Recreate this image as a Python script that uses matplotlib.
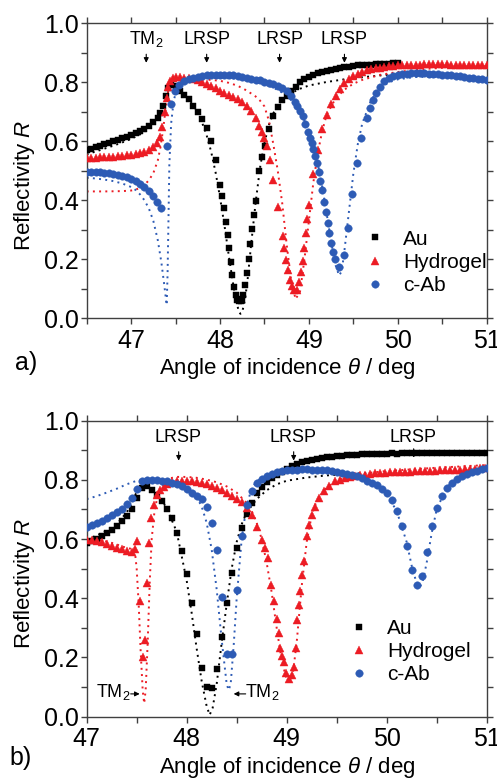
import numpy as np
import matplotlib
matplotlib.use('Agg')
import matplotlib.pyplot as plt
from matplotlib.ticker import MultipleLocator, FormatStrFormatter

plt.rcParams['font.family'] = ['Liberation Sans', 'DejaVu Sans']
plt.rcParams['mathtext.fontset'] = 'custom'
plt.rcParams['mathtext.rm'] = 'Liberation Sans'
plt.rcParams['mathtext.it'] = 'Liberation Sans:italic'

RED = '#ec1c24'
BLUE = '#2d5bb5'
AXCOL = '#404040'
TM2 = r'TM$_\mathregular{2}$'

# ---------------- panel a: measured ----------------
au_a_x = [46.50, 46.55, 46.60, 46.65, 46.70, 46.75, 46.80, 46.85, 46.90, 46.95, 47.00, 47.05, 47.10,
          47.15, 47.20, 47.25, 47.30, 47.33, 47.36, 47.39, 47.42, 47.45, 47.50, 47.55, 47.60, 47.65,
          47.70, 47.75, 47.80, 47.85, 47.90, 47.95, 48.000, 48.026, 48.045, 48.064, 48.086, 48.105,
          48.120, 48.139, 48.161, 48.180, 48.195, 48.213, 48.232, 48.247, 48.262, 48.281, 48.303,
          48.322, 48.341, 48.363, 48.382, 48.404, 48.435, 48.47, 48.51, 48.55, 48.60, 48.65, 48.70,
          48.75, 48.80, 48.85, 48.90, 48.95, 49.00, 49.05, 49.10, 49.15, 49.20, 49.25, 49.30, 49.35,
          49.40, 49.45, 49.50, 49.55, 49.60, 49.65, 49.70, 49.75, 49.80, 49.85, 49.90, 49.95, 50.00]
au_a_r = [0.570, 0.575, 0.580, 0.585, 0.590, 0.595, 0.600, 0.605, 0.610, 0.615, 0.621, 0.627, 0.635,
          0.643, 0.652, 0.664, 0.678, 0.695, 0.720, 0.752, 0.780, 0.791, 0.786, 0.772, 0.758, 0.743,
          0.720, 0.700, 0.675, 0.645, 0.600, 0.537, 0.452, 0.415, 0.373, 0.328, 0.282, 0.237,
          0.192, 0.147, 0.107, 0.079, 0.062, 0.057, 0.057, 0.065, 0.079, 0.113, 0.155,
          0.200, 0.252, 0.302, 0.350, 0.397, 0.500, 0.545, 0.585, 0.640, 0.685, 0.715, 0.740,
          0.755, 0.770, 0.785, 0.800, 0.810, 0.818, 0.824, 0.830, 0.835, 0.839, 0.843, 0.846, 0.849,
          0.851, 0.853, 0.855, 0.857, 0.858, 0.859, 0.860, 0.861, 0.862, 0.863, 0.863, 0.864, 0.864]

hyd_a_x = [46.50, 46.55, 46.60, 46.65, 46.70, 46.75, 46.80, 46.85, 46.90, 46.95, 47.00, 47.05, 47.10,
           47.15, 47.20, 47.25, 47.29, 47.32, 47.35, 47.38, 47.40, 47.42, 47.44, 47.47, 47.50, 47.55,
           47.60, 47.65, 47.70, 47.75, 47.80, 47.85, 47.90, 47.95, 48.00, 48.05, 48.10, 48.15, 48.20,
           48.25, 48.30, 48.35, 48.40, 48.44, 48.47, 48.50, 48.53, 48.56, 48.600, 48.648, 48.704,
           48.723, 48.742, 48.768, 48.787, 48.809, 48.831, 48.861, 48.888, 48.910, 48.936, 48.948,
           48.966, 48.981, 49.004, 49.05, 49.10, 49.15, 49.20, 49.25, 49.30, 49.35, 49.40, 49.45,
           49.50, 49.55, 49.60, 49.65, 49.70, 49.75, 49.80, 49.85, 49.90, 49.95, 50.00, 50.05, 50.10,
           50.15, 50.20, 50.25, 50.30, 50.35, 50.40, 50.45, 50.50, 50.55, 50.60, 50.65, 50.70, 50.75,
           50.80, 50.85, 50.90, 50.95, 51.00]
hyd_a_r = [0.542, 0.543, 0.544, 0.545, 0.546, 0.547, 0.548, 0.550, 0.551, 0.553, 0.555, 0.557, 0.560,
           0.564, 0.570, 0.580, 0.595, 0.616, 0.650, 0.700, 0.745, 0.785, 0.805, 0.813, 0.817, 0.818,
           0.816, 0.813, 0.810, 0.806, 0.801, 0.795, 0.788, 0.780, 0.772, 0.765, 0.758, 0.751, 0.742,
           0.732, 0.720, 0.703, 0.680, 0.652, 0.630, 0.610, 0.585, 0.535, 0.469, 0.376, 0.280,
           0.237, 0.198, 0.164, 0.130, 0.108, 0.096, 0.096, 0.124, 0.158, 0.195, 0.237,
           0.288, 0.335, 0.384, 0.490, 0.570, 0.640, 0.690, 0.725, 0.753, 0.778, 0.797, 0.810,
           0.820, 0.828, 0.835, 0.840, 0.844, 0.847, 0.850, 0.852, 0.854, 0.856, 0.857, 0.858, 0.859,
           0.859, 0.860, 0.860, 0.861, 0.861, 0.861, 0.861, 0.861, 0.861, 0.860, 0.860, 0.860, 0.859,
           0.859, 0.858, 0.858, 0.857, 0.857]

cab_a_x = [46.50, 46.55, 46.60, 46.65, 46.70, 46.75, 46.80, 46.85, 46.90, 46.95, 47.00, 47.05, 47.10,
           47.15, 47.20, 47.25, 47.29, 47.34, 47.40, 47.45, 47.49, 47.54, 47.60, 47.65, 47.70, 47.75,
           47.80, 47.85, 47.90, 47.95, 48.00, 48.05, 48.10, 48.15, 48.20, 48.25, 48.30, 48.35, 48.40,
           48.45, 48.50, 48.55, 48.60, 48.65, 48.70, 48.75, 48.80, 48.84, 48.87, 48.90, 48.93, 48.96,
           48.99, 49.01, 49.03, 49.05, 49.07, 49.09, 49.11, 49.13, 49.15, 49.17, 49.19, 49.21, 49.23,
           49.25, 49.27, 49.29, 49.34, 49.39, 49.44, 49.49, 49.54, 49.59, 49.65, 49.69, 49.72, 49.76,
           49.80, 49.85, 49.90, 49.95, 50.00, 50.05, 50.10, 50.15, 50.20, 50.25, 50.30, 50.35, 50.40,
           50.45, 50.50, 50.55, 50.60, 50.65, 50.70, 50.75, 50.80, 50.85, 50.90, 50.95, 51.00]
cab_a_r = [0.497, 0.497, 0.496, 0.495, 0.494, 0.492, 0.490, 0.487, 0.483, 0.478, 0.472, 0.464, 0.455,
           0.444, 0.430, 0.413, 0.395, 0.373, 0.584, 0.728, 0.770, 0.791, 0.803, 0.810, 0.815, 0.819,
           0.822, 0.824, 0.825, 0.826, 0.826, 0.826, 0.825, 0.824, 0.822, 0.819, 0.815, 0.812, 0.809,
           0.806, 0.802, 0.798, 0.794, 0.789, 0.782, 0.770, 0.752, 0.734, 0.718, 0.703, 0.686, 0.660,
           0.633, 0.612, 0.594, 0.575, 0.550, 0.525, 0.497, 0.465, 0.435, 0.395, 0.361, 0.322, 0.290,
           0.256, 0.226, 0.200, 0.173, 0.215, 0.305, 0.420, 0.525, 0.610, 0.678, 0.712, 0.740, 0.765,
           0.785, 0.803, 0.813, 0.820, 0.825, 0.828, 0.829, 0.830, 0.830, 0.830, 0.830, 0.829, 0.829,
           0.828, 0.826, 0.825, 0.823, 0.822, 0.820, 0.818, 0.816, 0.814, 0.812, 0.810, 0.807]

# ---------------- panel a: fits ----------------
au_a_fx = [46.5, 46.6, 46.7, 46.8, 46.9, 47.0, 47.1, 47.2, 47.25, 47.3, 47.35, 47.38, 47.41, 47.43,
           47.46, 47.5, 47.55, 47.6, 47.65, 47.7, 47.75, 47.8, 47.85, 47.9, 47.95, 48.0, 48.05, 48.1,
           48.15, 48.18, 48.21, 48.23, 48.25, 48.28, 48.31, 48.35, 48.4, 48.45, 48.5, 48.55, 48.6,
           48.65, 48.7, 48.8, 48.9, 49.0, 49.2, 49.4, 49.6, 49.8, 50.0]
au_a_fr = [0.556, 0.565, 0.575, 0.585, 0.596, 0.608, 0.623, 0.643, 0.657, 0.675, 0.705, 0.735, 0.770, 0.785,
           0.788, 0.783, 0.772, 0.758, 0.741, 0.720, 0.695, 0.662, 0.620, 0.565, 0.495, 0.410, 0.315, 0.210,
           0.112, 0.062, 0.025, 0.015, 0.022, 0.060, 0.130, 0.250, 0.390, 0.510, 0.595, 0.655, 0.695,
           0.722, 0.741, 0.763, 0.778, 0.789, 0.801, 0.810, 0.817, 0.823, 0.828]

hyd_a_fx = [46.5, 46.7, 46.9, 47.0, 47.05, 47.1, 47.15, 47.2, 47.25, 47.3, 47.33, 47.36, 47.39, 47.42,
            47.45, 47.5, 47.6, 47.7, 47.8, 47.9, 48.0, 48.1, 48.2, 48.3, 48.4, 48.45, 48.5, 48.55, 48.6,
            48.65, 48.7, 48.75, 48.8, 48.85, 48.9, 48.95, 49.0, 49.05, 49.1, 49.15, 49.2, 49.3, 49.4,
            49.5, 49.6, 49.8, 50.0, 50.3, 50.6, 51.0]
hyd_a_fr = [0.430, 0.430, 0.431, 0.433, 0.436, 0.442, 0.452, 0.468, 0.492, 0.535, 0.580, 0.640, 0.715, 0.775,
            0.800, 0.810, 0.813, 0.812, 0.810, 0.808, 0.805, 0.798, 0.788, 0.772, 0.752, 0.738, 0.718, 0.670,
            0.590, 0.500, 0.390, 0.250, 0.130, 0.065, 0.090, 0.200, 0.330, 0.460, 0.560, 0.635, 0.690, 0.745,
            0.775, 0.795, 0.808, 0.825, 0.835, 0.845, 0.851, 0.855]

cab_a_fx = [46.5, 46.6, 46.7, 46.8, 46.9, 47.0, 47.05, 47.1, 47.15, 47.2, 47.25, 47.3, 47.34, 47.37,
            47.40, 47.41, 47.42, 47.43, 47.45, 47.48, 47.52, 47.6, 47.8, 48.0, 48.2, 48.4, 48.6, 48.7,
            48.8, 48.9, 49.0, 49.05, 49.1, 49.15, 49.2, 49.25, 49.3, 49.34, 49.37, 49.4, 49.45, 49.5,
            49.55, 49.6, 49.7, 49.8, 49.9, 50.0, 50.2, 50.4, 50.6, 50.8, 51.0]
cab_a_fr = [0.476, 0.474, 0.470, 0.465, 0.457, 0.445, 0.435, 0.420, 0.400, 0.372, 0.330, 0.265, 0.190, 0.120,
            0.045, 0.150, 0.330, 0.520, 0.660, 0.740, 0.780, 0.800, 0.812, 0.815, 0.812, 0.802, 0.782, 0.765,
            0.740, 0.700, 0.640, 0.590, 0.525, 0.445, 0.355, 0.260, 0.180, 0.145, 0.160, 0.230, 0.360, 0.490,
            0.590, 0.660, 0.740, 0.780, 0.800, 0.810, 0.818, 0.818, 0.815, 0.810, 0.805]

# ---------------- panel b: measured ----------------
au_b_x = [47.00, 47.05, 47.10, 47.15, 47.20, 47.25, 47.30, 47.35, 47.40, 47.45, 47.50, 47.55, 47.60,
          47.65, 47.70, 47.75, 47.80, 47.85, 47.90, 47.95, 48.00, 48.05, 48.10, 48.15, 48.20, 48.25,
          48.30, 48.35, 48.40, 48.45, 48.50, 48.55, 48.60, 48.65, 48.70, 48.75, 48.80, 48.85, 48.90,
          48.95, 49.00, 49.05, 49.10, 49.15, 49.20, 49.25, 49.30, 49.35, 49.40, 49.45, 49.50, 49.55,
          49.60, 49.65, 49.70, 49.75, 49.80, 49.85, 49.90, 49.95, 50.00, 50.05, 50.10, 50.15, 50.20,
          50.25, 50.30, 50.35, 50.40, 50.45, 50.50, 50.55, 50.60, 50.65, 50.70, 50.75, 50.80, 50.85,
          50.90, 50.95, 51.00]
au_b_r = [0.588, 0.594, 0.601, 0.610, 0.620, 0.631, 0.645, 0.660, 0.678, 0.703, 0.738, 0.772, 0.778,
          0.767, 0.750, 0.728, 0.703, 0.672, 0.622, 0.560, 0.482, 0.383, 0.279, 0.166, 0.101, 0.098,
          0.161, 0.268, 0.385, 0.485, 0.569, 0.636, 0.685, 0.723, 0.755, 0.777, 0.793, 0.806, 0.817,
          0.827, 0.837, 0.846, 0.853, 0.859, 0.864, 0.868, 0.871, 0.874, 0.876, 0.878, 0.880, 0.882,
          0.883, 0.884, 0.885, 0.886, 0.887, 0.888, 0.888, 0.889, 0.889, 0.890, 0.886, 0.890, 0.891,
          0.891, 0.891, 0.891, 0.891, 0.891, 0.891, 0.891, 0.891, 0.891, 0.891, 0.891, 0.891, 0.891,
          0.891, 0.891, 0.891]

hyd_b_x = [47.00, 47.05, 47.10, 47.15, 47.20, 47.25, 47.30, 47.35, 47.40, 47.45, 47.48, 47.50, 47.53,
           47.56, 47.58, 47.60, 47.62, 47.64, 47.67, 47.70, 47.73, 47.77, 47.80, 47.85, 47.90, 47.95,
           48.00, 48.05, 48.10, 48.15, 48.20, 48.25, 48.30, 48.35, 48.40, 48.45, 48.50, 48.55, 48.60,
           48.65, 48.70, 48.75, 48.78, 48.81, 48.84, 48.87, 48.90, 48.92, 48.93, 48.95, 48.97, 48.99,
           49.02, 49.05, 49.07, 49.09, 49.10, 49.12, 49.13, 49.15, 49.17, 49.20, 49.22, 49.25, 49.28,
           49.32, 49.37, 49.42, 49.48, 49.53, 49.58, 49.63, 49.68, 49.73, 49.78, 49.83, 49.88, 49.93,
           49.98, 50.03, 50.08, 50.13, 50.18, 50.23, 50.28, 50.33, 50.38, 50.43, 50.48, 50.53, 50.58,
           50.63, 50.68, 50.73, 50.78, 50.83, 50.88, 50.93, 50.98]
hyd_b_r = [0.598, 0.596, 0.593, 0.589, 0.584, 0.578, 0.571, 0.565, 0.560, 0.558, 0.565, 0.593, 0.392,
           0.200, 0.259, 0.453, 0.586, 0.670, 0.715, 0.748, 0.765, 0.776, 0.785, 0.792, 0.795, 0.796,
           0.796, 0.795, 0.793, 0.790, 0.785, 0.779, 0.772, 0.765, 0.755, 0.745, 0.735, 0.726, 0.705,
           0.681, 0.642, 0.597, 0.570, 0.535, 0.445, 0.390, 0.329, 0.282, 0.231, 0.205, 0.186, 0.146,
           0.129, 0.140, 0.169, 0.231, 0.326, 0.378, 0.424, 0.480, 0.525, 0.609, 0.649, 0.682, 0.710,
           0.739, 0.761, 0.778, 0.795, 0.801, 0.806, 0.810, 0.813, 0.816, 0.818, 0.820, 0.822, 0.823,
           0.824, 0.825, 0.826, 0.827, 0.827, 0.828, 0.829, 0.829, 0.830, 0.831, 0.831, 0.832, 0.833,
           0.834, 0.834, 0.835, 0.836, 0.837, 0.838, 0.839, 0.840]

cab_b_x = au_b_x
cab_b_r = [0.640, 0.647, 0.654, 0.661, 0.670, 0.680, 0.691, 0.703, 0.718, 0.738, 0.770, 0.795, 0.800,
           0.800, 0.799, 0.797, 0.795, 0.791, 0.786, 0.780, 0.770, 0.757, 0.745, 0.734, 0.710, 0.655,
           0.562, 0.405, 0.212, 0.212, 0.428, 0.612, 0.715, 0.763, 0.788, 0.803, 0.813, 0.820, 0.825,
           0.829, 0.832, 0.834, 0.835, 0.836, 0.836, 0.835, 0.834, 0.833, 0.832, 0.830, 0.827, 0.824,
           0.821, 0.817, 0.812, 0.805, 0.797, 0.789, 0.781, 0.770, 0.755, 0.733, 0.694, 0.643, 0.575,
           0.497, 0.446, 0.474, 0.558, 0.643, 0.705, 0.744, 0.772, 0.789, 0.802, 0.812, 0.820, 0.826,
           0.831, 0.836, 0.840]

# ---------------- panel b: fits ----------------
au_b_fx = [47.0, 47.1, 47.2, 47.3, 47.4, 47.45, 47.5, 47.55, 47.6, 47.7, 47.8, 47.9, 48.0, 48.05, 48.1,
           48.15, 48.2, 48.23, 48.26, 48.3, 48.35, 48.4, 48.45, 48.5, 48.55, 48.6, 48.7, 48.8, 48.9,
           49.0, 49.2, 49.4, 49.6, 49.8]
au_b_fr = [0.600, 0.612, 0.628, 0.650, 0.690, 0.720, 0.760, 0.785, 0.782, 0.755, 0.705, 0.625, 0.460, 0.350, 0.230,
           0.120, 0.035, 0.006, 0.030, 0.110, 0.250, 0.380, 0.500, 0.590, 0.650, 0.690, 0.735, 0.765, 0.785,
           0.797, 0.808, 0.815, 0.820, 0.823]

hyd_b_fx = [47.0, 47.1, 47.2, 47.3, 47.4, 47.48, 47.50, 47.52, 47.54, 47.56, 47.575, 47.59, 47.61, 47.63,
            47.65, 47.68, 47.72, 47.8, 47.9, 48.0, 48.1, 48.2, 48.3, 48.4, 48.5, 48.6, 48.65, 48.7, 48.75,
            48.8, 48.85, 48.9, 48.95, 49.0, 49.03, 49.06, 49.1, 49.15, 49.2, 49.25, 49.3, 49.4, 49.5,
            49.6, 49.8, 50.0, 50.5, 51.0]
hyd_b_fr = [0.600, 0.598, 0.592, 0.582, 0.570, 0.565, 0.500, 0.380, 0.220, 0.090, 0.045, 0.090, 0.250, 0.450,
            0.600, 0.700, 0.760, 0.803, 0.810, 0.810, 0.807, 0.801, 0.792, 0.778, 0.757, 0.722, 0.695, 0.655, 0.600,
            0.520, 0.420, 0.300, 0.190, 0.125, 0.118, 0.140, 0.250, 0.440, 0.590, 0.680, 0.730, 0.775, 0.797,
            0.810, 0.823, 0.830, 0.841, 0.850]

cab_b_fx = [47.0, 47.1, 47.2, 47.3, 47.4, 47.5, 47.6, 47.7, 47.8, 47.9, 48.0, 48.05, 48.1, 48.15, 48.2,
            48.25, 48.3, 48.35, 48.4, 48.42, 48.44, 48.47, 48.5, 48.55, 48.6, 48.65, 48.7, 48.8, 48.9,
            49.0, 49.2, 49.4, 49.6, 49.8, 49.9, 50.0, 50.1, 50.2, 50.25, 50.3, 50.33, 50.36, 50.4, 50.45,
            50.5, 50.6, 50.7, 50.8, 50.9, 51.0]
cab_b_fr = [0.735, 0.745, 0.757, 0.770, 0.785, 0.797, 0.802, 0.801, 0.797, 0.789, 0.775, 0.762, 0.742, 0.710, 0.655,
            0.565, 0.430, 0.260, 0.110, 0.090, 0.110, 0.240, 0.400, 0.600, 0.715, 0.770, 0.795, 0.815, 0.825,
            0.829, 0.831, 0.828, 0.818, 0.797, 0.780, 0.752, 0.695, 0.590, 0.510, 0.450, 0.438, 0.455, 0.520, 0.620,
            0.700, 0.775, 0.805, 0.820, 0.828, 0.832]

LEGEND_NAMES = ['Au', 'Hydrogel', 'c-Ab']


def StyleAxes(ax, xmin):
    ax.set_xlim(xmin, 51)
    ax.set_ylim(0, 1.0)
    ax.xaxis.set_major_locator(MultipleLocator(1))
    ax.xaxis.set_minor_locator(MultipleLocator(0.5))
    ax.yaxis.set_major_locator(MultipleLocator(0.2))
    ax.yaxis.set_minor_locator(MultipleLocator(0.1))
    ax.yaxis.set_major_formatter(FormatStrFormatter('%.1f'))
    ax.tick_params(which='both', direction='out', length=4.5, width=1, color=AXCOL,
                   top=True, right=True, labelsize=18)
    ax.tick_params(axis='x', pad=3)
    ax.tick_params(axis='y', pad=1)
    for s in ax.spines.values():
        s.set_color(AXCOL)
        s.set_linewidth(1)
    ax.set_xlabel(r'Angle of incidence $\theta$ / deg', fontsize=16, va='top')
    ax.set_ylabel(r'Reflectivity $R$', fontsize=16)
    ax.xaxis.set_label_coords(0.5, -0.128)
    ax.yaxis.set_label_coords(-0.125, 0.45)


def PlotPanel(ax, meas, fits):
    cols = ['black', RED, BLUE]
    marks = ['s', '^', 'o']
    sizes = [4.6, 5.6, 5.4]
    for (fx, fr), c in zip(fits, cols):
        ax.plot(fx, fr, linestyle=(0, (1, 2.2)), lw=1.4, color=c, zorder=2)
    handles = []
    for (mx, mr), c, m, s, name in zip(meas, cols, marks, sizes, LEGEND_NAMES):
        h, = ax.plot(mx, mr, linestyle='none', marker=m, ms=s, color=c, mec=c, mew=0.3,
                     label=name, zorder=3)
        handles.append(h)
    return handles


def Arrow(ax, x0, y0, x1, y1):
    ax.annotate('', xy=(x1, y1), xytext=(x0, y0),
                arrowprops=dict(arrowstyle='-|>', color='k', lw=0.8, mutation_scale=7,
                                shrinkA=0, shrinkB=0))


fig = plt.figure(figsize=(4.97, 7.78), dpi=100)
axa = fig.add_axes([0.1744, 0.5909, 0.8048, 0.3792])
axb = fig.add_axes([0.1744, 0.0788, 0.8048, 0.3805])

# panel a
h = PlotPanel(axa, [(au_a_x, au_a_r), (hyd_a_x, hyd_a_r), (cab_a_x, cab_a_r)],
              [(au_a_fx, au_a_fr), (hyd_a_fx, hyd_a_fr), (cab_a_fx, cab_a_fr)])
StyleAxes(axa, 46.5)
axa.legend(handles=h, loc='upper left', bbox_to_anchor=(0.695, 0.300), frameon=False,
           fontsize=15, handlelength=1.0, handletextpad=0.85, labelspacing=0.2,
           borderpad=0, borderaxespad=0)
axa.text(47.17, 0.945, TM2, ha='center', va='center', fontsize=13)
Arrow(axa, 47.17, 0.895, 47.17, 0.866)
for xa in [47.85, 48.67, 49.40]:
    axa.text(xa, 0.945, 'LRSP', ha='center', va='center', fontsize=13)
    Arrow(axa, xa, 0.895, xa, 0.866)

# panel b
h = PlotPanel(axb, [(au_b_x, au_b_r), (hyd_b_x, hyd_b_r), (cab_b_x, cab_b_r)],
              [(au_b_fx, au_b_fr), (hyd_b_fx, hyd_b_fr), (cab_b_fx, cab_b_fr)])
StyleAxes(axb, 47.0)
axb.legend(handles=h, loc='upper left', bbox_to_anchor=(0.654, 0.330), frameon=False,
           fontsize=15, handlelength=1.0, handletextpad=0.85, labelspacing=0.2,
           borderpad=0, borderaxespad=0)
for xb, yt in [(47.92, 0.895), (49.07, 0.895), (50.27, 0.905)]:
    axb.text(xb - 0.01, 0.943, 'LRSP', ha='center', va='center', fontsize=13)
    Arrow(axb, xb, yt, xb, yt - 0.03)
axb.text(47.265, 0.083, TM2, ha='center', va='center', fontsize=13)
Arrow(axb, 47.44, 0.077, 47.53, 0.077)
axb.text(48.76, 0.083, TM2, ha='center', va='center', fontsize=13)
Arrow(axb, 48.59, 0.077, 48.47, 0.077)

fig.text(0.030, 0.533, 'a)', fontsize=18, va='center', ha='left')
fig.text(0.020, 0.0257, 'b)', fontsize=18, va='center', ha='left')

fig.savefig('out.png', dpi=100)
